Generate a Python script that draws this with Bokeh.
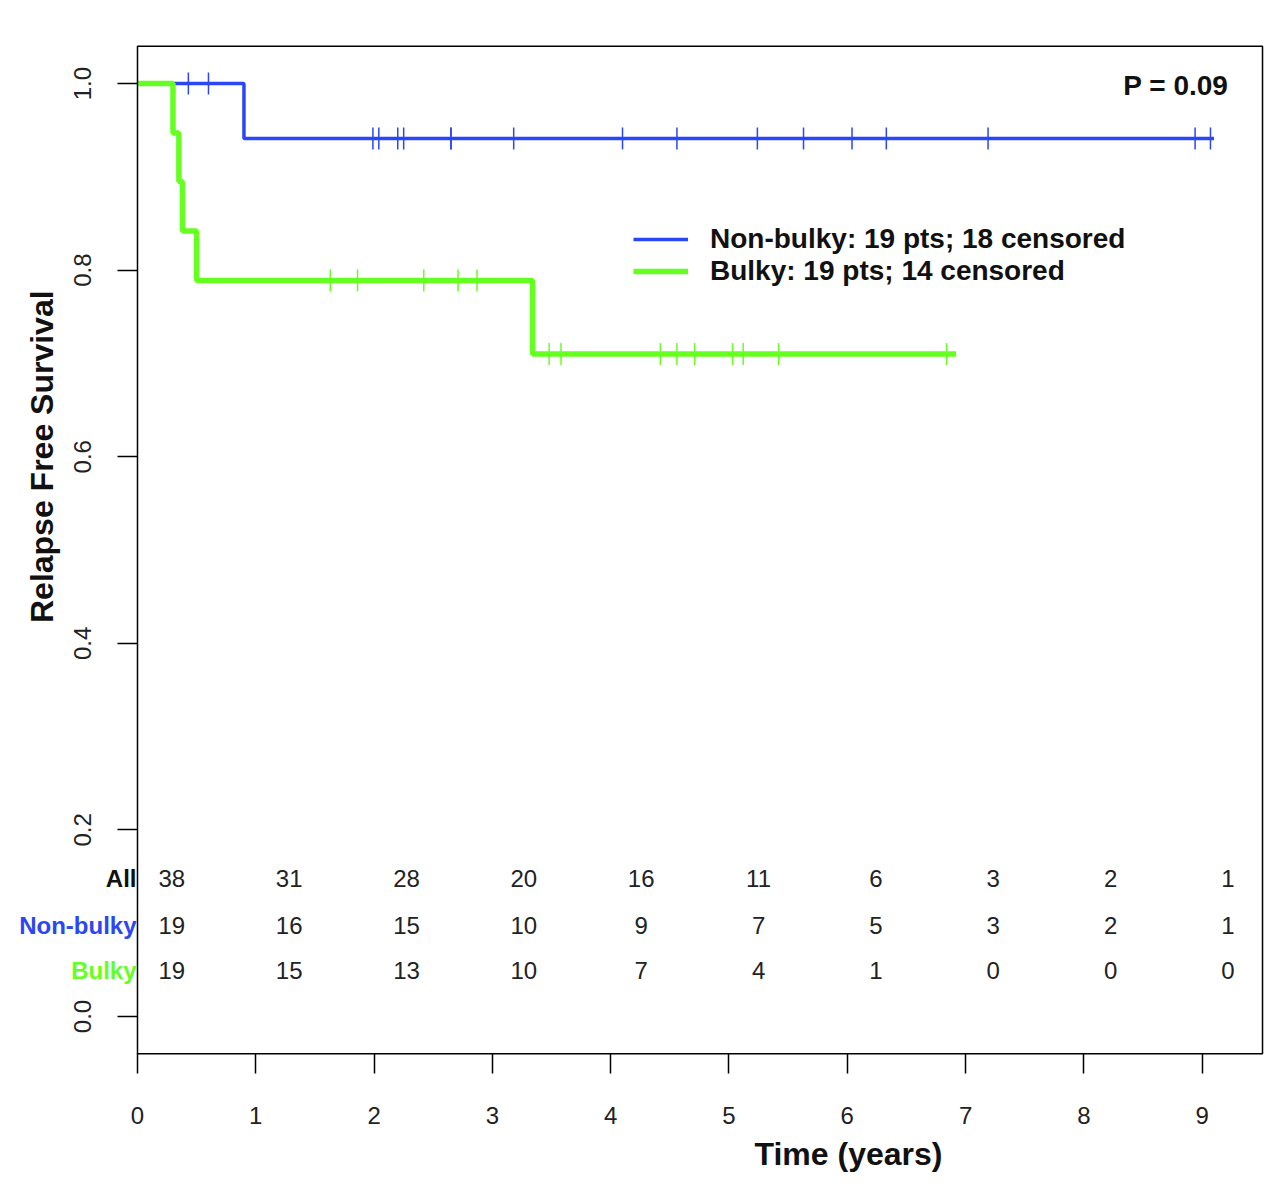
import numpy as np
from bokeh.plotting import figure
from bokeh.models import (Label, Legend, LegendItem, FixedTicker, ColumnDataSource,
                          LinearAxis, BoxAnnotation)
from bokeh.core.properties import value
from bokeh.embed import file_html
from bokeh.resources import INLINE

# Kaplan-Meier steps
nonbulky_t = [0.0, 0.90, 9.10]
nonbulky_s = [1.0, 0.941, 0.941]
bulky_t = [0.0, 0.30, 0.35, 0.38, 0.50, 3.34, 6.92]
bulky_s = [1.0, 0.947, 0.895, 0.842, 0.789, 0.710, 0.710]

# censoring times
nonbulky_cens = [0.43, 0.60, 1.99, 2.04, 2.20, 2.25, 2.65, 2.65, 3.18, 4.10,
                 4.56, 5.24, 5.63, 6.04, 6.33, 7.19, 8.94, 9.07]
bulky_cens = [1.63, 1.86, 2.42, 2.71, 2.87, 3.48, 3.58, 4.42, 4.56, 4.71,
              5.03, 5.12, 5.42, 6.84]

# numbers at risk
risk_times = [0, 1, 2, 3, 4, 5, 6, 7, 8, 9]
risk_all = [38, 31, 28, 20, 16, 11, 6, 3, 2, 1]
risk_nonbulky = [19, 16, 15, 10, 9, 7, 5, 3, 2, 1]
risk_bulky = [19, 15, 13, 10, 7, 4, 1, 0, 0, 0]

x_ticks = [0, 1, 2, 3, 4, 5, 6, 7, 8, 9]
y_ticks = [0.0, 0.2, 0.4, 0.6, 0.8, 1.0]

BLUE = "#2b46f5"
GREEN = "#66ff22"
INK = "#111111"
FONT = "Liberation Sans"

# plotting box of the original R chart (data units)
XMIN, XMAX = 0.0, 9.51
YMIN, YMAX = -0.04, 1.04


def level_at(times, surv, t):
    idx = np.searchsorted(times, t, side="right") - 1
    return [surv[i] for i in idx]


# the frame covers the whole canvas so that the margin texts are not clipped
p = figure(width=1280, height=1188, x_range=(-1.158, 9.662), y_range=(-0.1844, 1.0890),
           output_backend="svg", toolbar_location=None,
           x_axis_location=None, y_axis_location=None, min_border=0)
p.grid.visible = False
p.outline_line_color = None

p.add_layout(BoxAnnotation(left=XMIN, right=XMAX, bottom=YMIN, top=YMAX,
                           fill_alpha=0, line_color="black", line_alpha=1.0,
                           line_width=1.5))

xax = LinearAxis(fixed_location=YMIN, ticker=FixedTicker(ticks=x_ticks))
yax = LinearAxis(fixed_location=XMIN, ticker=FixedTicker(ticks=y_ticks))
yax.major_label_overrides = {t: "%.1f" % t for t in y_ticks}
yax.major_label_orientation = "vertical"
xax.major_label_standoff = 33
yax.major_label_standoff = 26
for ax in (xax, yax):
    ax.axis_line_color = None
    ax.major_tick_line_color = "black"
    ax.major_tick_line_width = 1.5
    ax.major_tick_out = 20
    ax.major_tick_in = 0
    ax.minor_tick_line_color = None
    ax.major_label_text_font = FONT
    ax.major_label_text_font_size = "24px"
    ax.major_label_text_color = "#222222"
p.add_layout(xax, "below")
p.add_layout(yax, "left")

r_nb = p.step(nonbulky_t, nonbulky_s, mode="after", line_color=BLUE, line_width=3.5)
p.scatter(nonbulky_cens, level_at(nonbulky_t, nonbulky_s, nonbulky_cens),
          marker="dash", angle=np.pi / 2, size=22, line_color=BLUE, line_width=1.5)
r_b = p.step(bulky_t, bulky_s, mode="after", line_color=GREEN, line_width=5.5)
p.scatter(bulky_cens, level_at(bulky_t, bulky_s, bulky_cens),
          marker="dash", angle=np.pi / 2, size=22, line_color=GREEN, line_width=1.5)

legend = Legend(items=[
    LegendItem(label="Non-bulky: 19 pts; 18 censored", renderers=[r_nb]),
    LegendItem(label="Bulky: 19 pts; 14 censored", renderers=[r_b]),
], location=(633, 901))
legend.label_text_font = FONT
legend.label_text_font_style = "bold"
legend.label_text_font_size = "28px"
legend.label_text_color = INK
legend.glyph_width = 55
legend.glyph_height = 32
legend.label_height = 32
legend.label_standoff = 22
legend.spacing = 0
legend.padding = 0
legend.margin = 0
legend.border_line_alpha = 0
legend.background_fill_alpha = 0
p.add_layout(legend)

# numbers at risk (printed a little to the right of each year)
rows = [("All", risk_all, INK, 0.148),
        ("Non-bulky", risk_nonbulky, BLUE, 0.098),
        ("Bulky", risk_bulky, GREEN, 0.049)]
for name, counts, col, yy in rows:
    src = ColumnDataSource(dict(x=[0.29 + 0.992 * t for t in risk_times],
                                y=[yy] * len(counts),
                                txt=[str(c) for c in counts]))
    p.text(x="x", y="y", text="txt", source=src, text_align="center",
           text_baseline="middle", text_font=value(FONT), text_font_size="24px",
           text_color="#222222")
    p.add_layout(Label(x=XMIN, y=yy, text=name, text_align="right", text_baseline="middle",
                       text_font=FONT, text_font_style="bold", text_font_size="24px",
                       text_color=col, x_offset=-1))

p.add_layout(Label(x=9.222, y=0.998, text="P = 0.09",
                   text_align="right", text_baseline="middle", text_font=FONT,
                   text_font_style="bold", text_font_size="28px", text_color=INK))
p.add_layout(Label(x=-0.803, y=0.600, text="Relapse Free Survival", angle=np.pi / 2,
                   text_align="center", text_baseline="middle", text_font=FONT,
                   text_font_style="bold", text_font_size="32px", text_color=INK))
p.add_layout(Label(x=6.01, y=-0.147, text="Time (years)", text_align="center",
                   text_baseline="middle", text_font=FONT, text_font_style="bold",
                   text_font_size="32px", text_color=INK))

open("out.html", "w").write(file_html(p, INLINE))
